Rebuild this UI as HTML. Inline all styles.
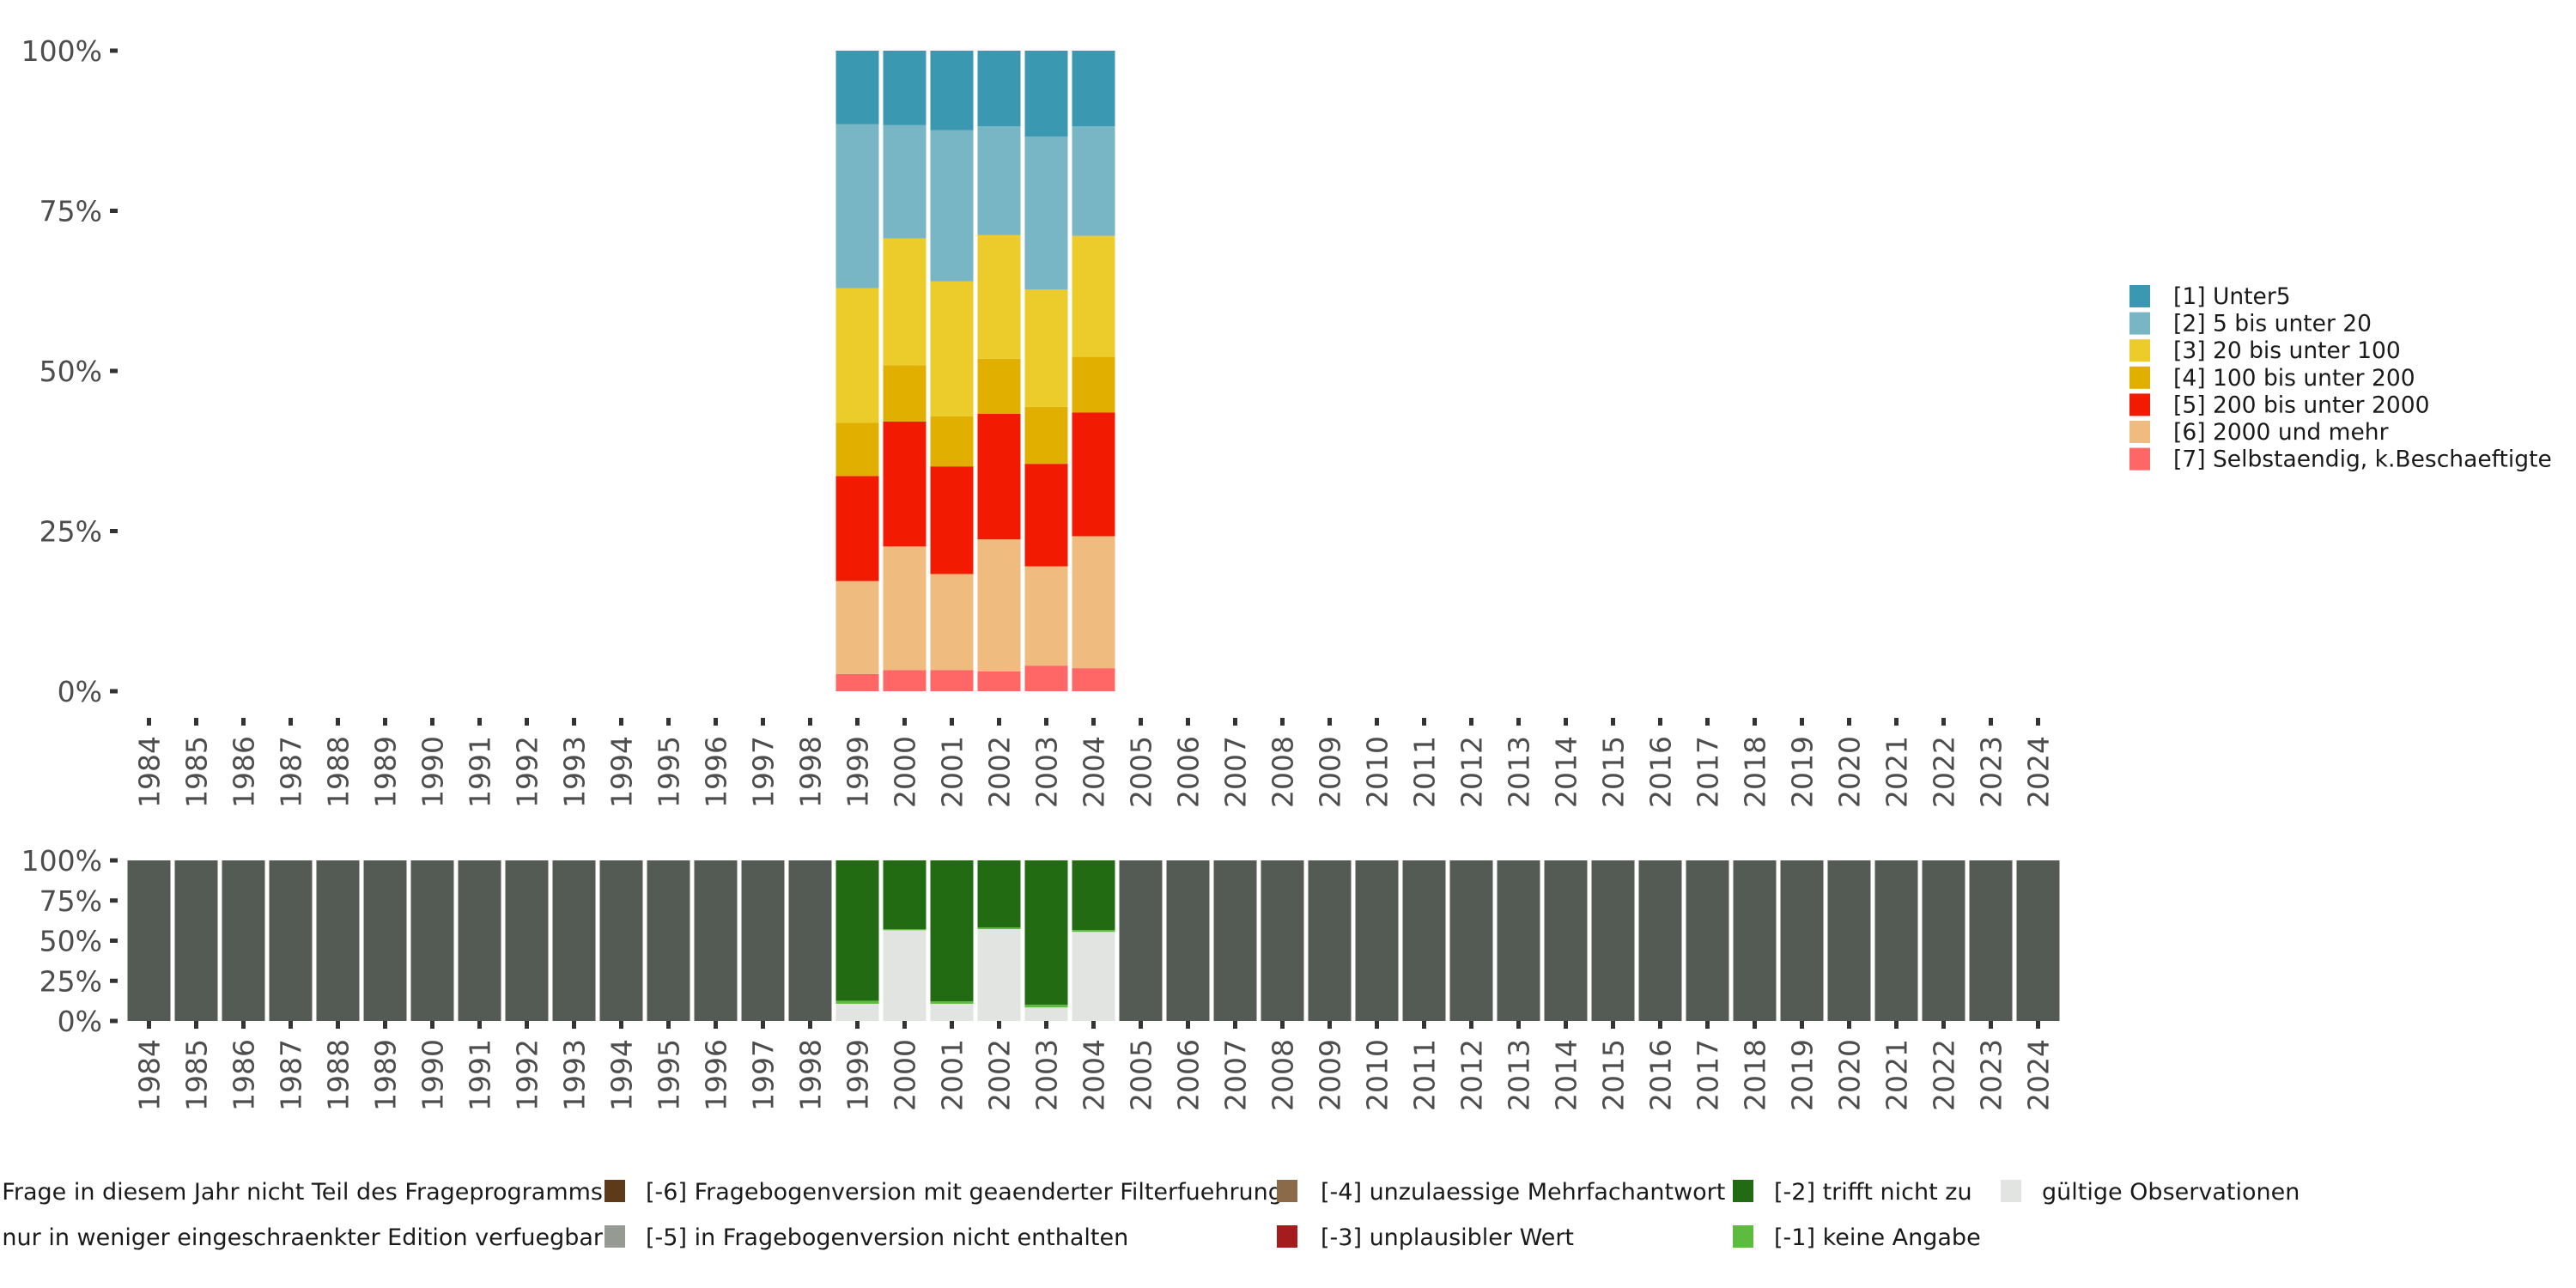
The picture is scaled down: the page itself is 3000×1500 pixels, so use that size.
<!DOCTYPE html>
<html><head><meta charset="utf-8">
<style>
html,body{margin:0;padding:0;background:#fff;}
svg{display:block;font-family:"DejaVu Sans","Liberation Sans",sans-serif;}
</style></head>
<body>
<svg id="chart" width="3000" height="1500" viewBox="0 0 3000 1500"></svg>
<script>
const years = [];
for (let y = 1984; y <= 2024; y++) years.push(y);
const topYears = [1999, 2000, 2001, 2002, 2003, 2004];
const topLabels = ["[1] Unter5","[2] 5 bis unter 20","[3] 20 bis unter 100","[4] 100 bis unter 200","[5] 200 bis unter 2000","[6] 2000 und mehr","[7] Selbstaendig, k.Beschaeftigte"];
const topColors = ["#3b98b1","#78b6c6","#ebcc2a","#e1af00","#f21a00","#f0bb7e","#ff6666"];
// values per category, ordered by topYears (percent)
const s1 = [11.5, 11.6, 12.4, 11.8, 13.4, 11.8];
const s2 = [25.6, 17.7, 23.6, 17.0, 23.9, 17.1];
const s3 = [21.0, 19.8, 21.1, 19.3, 18.3, 18.9];
const s4 = [8.3, 8.8, 7.8, 8.6, 8.9, 8.7];
const s5 = [16.4, 19.5, 16.8, 19.6, 16.0, 19.3];
const s6 = [14.5, 19.3, 15.0, 20.6, 15.5, 20.6];
const s7 = [2.7, 3.3, 3.3, 3.1, 4.0, 3.6];
const yTicks = [0, 25, 50, 75, 100];
const yTickLabels = ["0%","25%","50%","75%","100%"];
// bottom chart: shares for 1999-2004
const validShare = [10.7, 56.5, 10.7, 57.2, 8.4, 55.5];
const noAnswer = [1.9, 0.7, 1.5, 1.1, 1.7, 1.2];
const notApplies = [87.4, 42.8, 87.8, 41.7, 89.9, 43.3];
const notAskedShare = 100;

const NS = "http://www.w3.org/2000/svg";
const svg = document.getElementById("chart");
function el(tag, attrs, parent) {
  const e = document.createElementNS(NS, tag);
  for (const k in attrs) e.setAttribute(k, attrs[k]);
  (parent || svg).appendChild(e);
  return e;
}
const x0 = 173.5, step = 55.0, bw = 50;
function xc(year) { return x0 + (year - 1984) * step; }

function axes(g, yScale, tickLabelTop) {
  yTicks.forEach((t, i) => {
    const y = yScale(t);
    const tk = el("line", {x1: 128, x2: 137, y1: y, y2: y, stroke: "#333", "stroke-width": 5}, g);
    
    
    const tl = el("text", {x: 119, y: y + 12, "text-anchor": "end", "font-size": 33, fill: "#4d4d4d"}, g);
    tl.textContent = yTickLabels[i];
    
    
  });
  years.forEach(yr => {
    const x = xc(yr);
    const tk = el("line", {x1: x, x2: x, y1: tickLabelTop - 21, y2: tickLabelTop - 12, stroke: "#333", "stroke-width": 5}, g);
    
    
    const tl = el("text", {x: 0, y: 0, "text-anchor": "end", "font-size": 33, fill: "#4d4d4d", transform: `translate(${x + 12},${tickLabelTop}) rotate(-90)`}, g);
    tl.textContent = yr;
    
    
  });
}

// top chart
const gTop = el("g", {});


const tTop = 59, tBot = 805;
const yT = v => tBot - (v / 100) * (tBot - tTop);
const series = [s1, s2, s3, s4, s5, s6, s7];
topYears.forEach((yr, i) => {
  let cum = 0;
  for (let k = series.length - 1; k >= 0; k--) {
    const v = series[k][i];
    const r = el("rect", {x: xc(yr) - bw / 2, y: yT(cum + v), width: bw, height: yT(cum) - yT(cum + v), fill: topColors[k]}, gTop);
    
    
    cum += v;
  }
});
axes(gTop, yT, 857);

// right legend
const gLeg = el("g", {});


topLabels.forEach((lab, i) => {
  const y = 332 + i * 31.6;
  const r = el("rect", {x: 2480, y: y, width: 24, height: 26, fill: topColors[i]}, gLeg);
  
  
  const t = el("text", {x: 2531, y: y + 22, "font-size": 26.5, fill: "#1a1a1a"}, gLeg);
  t.textContent = lab;
  
  
});

// bottom chart
const gBot = el("g", {});


const bTop = 1002, bBot = 1189;
const yB = v => bBot - (v / 100) * (bBot - bTop);
years.forEach(yr => {
  const i = topYears.indexOf(yr);
  const segs = i >= 0 ? [[validShare[i], "#e1e4e0"], [noAnswer[i], "#5dbb3f"], [notApplies[i], "#226b12"]] : [[notAskedShare, "#545b55"]];
  let cum = 0;
  segs.forEach(([v, c]) => {
    const r = el("rect", {x: xc(yr) - bw / 2, y: yB(cum + v), width: bw, height: yB(cum) - yB(cum + v), fill: c}, gBot);
    
    
    cum += v;
  });
});
axes(gBot, yB, 1210);

// bottom legend
const gL2 = el("g", {});


const leg2 = [
  {t: "[-8] Frage in diesem Jahr nicht Teil des Frageprogramms", c: null, tx: 702, ty: 1397, anchor: "end"},
  {t: "[-7] nur in weniger eingeschraenkter Edition verfuegbar", c: null, tx: 702, ty: 1450, anchor: "end"},
  {t: "[-6] Fragebogenversion mit geaenderter Filterfuehrung", c: "#5c3a1a", sx: 704, tx: 752, ty: 1397},
  {t: "[-5] in Fragebogenversion nicht enthalten", c: "#959a93", sx: 704, tx: 752, ty: 1450},
  {t: "[-4] unzulaessige Mehrfachantwort", c: "#8b6a4a", sx: 1487, tx: 1538, ty: 1397},
  {t: "[-3] unplausibler Wert", c: "#a51c1c", sx: 1487, tx: 1538, ty: 1450},
  {t: "[-2] trifft nicht zu", c: "#226b12", sx: 2018, tx: 2066, ty: 1397},
  {t: "[-1] keine Angabe", c: "#5dbb3f", sx: 2018, tx: 2066, ty: 1450},
  {t: "gültige Observationen", c: "#e1e4e0", sx: 2330, tx: 2378, ty: 1397}
];
leg2.forEach(d => {
  if (d.c) {
    const r = el("rect", {x: d.sx, y: d.ty - 23, width: 24, height: 26, fill: d.c}, gL2);
    
    
  }
  const t = el("text", {x: d.tx, y: d.ty, "font-size": 27, fill: "#1a1a1a", "text-anchor": d.anchor || "start"}, gL2);
  t.textContent = d.t;
  
  
});
</script>
</body></html>
